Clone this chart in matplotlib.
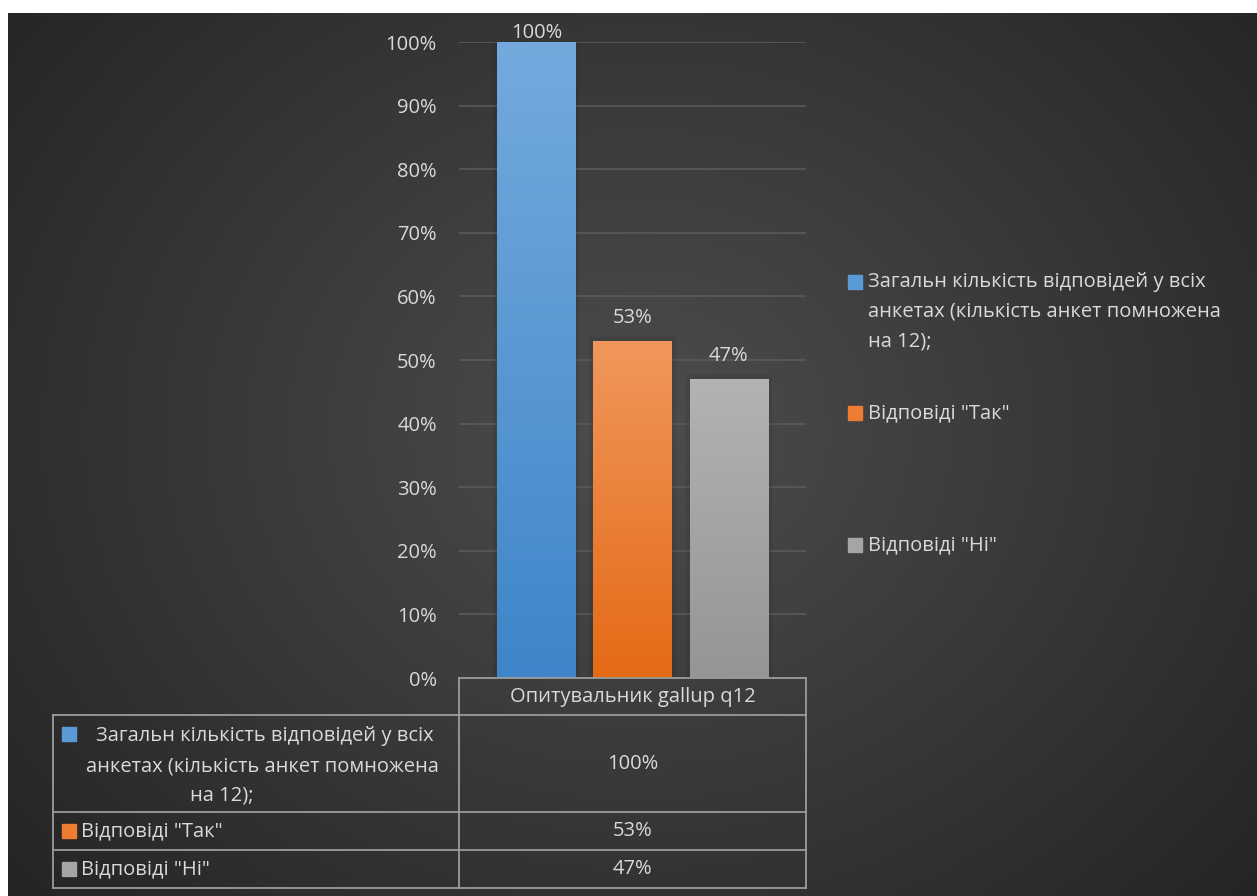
import numpy as np
import matplotlib
matplotlib.use("Agg")
import matplotlib.pyplot as plt
from matplotlib.colors import LinearSegmentedColormap
from matplotlib.patches import Rectangle
from matplotlib.lines import Line2D
import matplotlib.patheffects as pe
import textwrap

plt.rcParams['font.family'] = ['Open Sans', 'DejaVu Sans']

# data
category = 'Опитувальник gallup q12'
series = ['Загальн кількість відповідей у всіх анкетах (кількість анкет помножена на 12);',
          'Відповіді "Так"',
          'Відповіді "Ні"']
values = [100, 53, 47]
yticks = [0, 10, 20, 30, 40, 50, 60, 70, 80, 90, 100]

# colours (top, bottom) of each series gradient
bar_top = ['#74aade', '#f1975d', '#b3b3b3']
bar_bottom = ['#3e86c9', '#e46a15', '#959595']
swatch = ['#5b9bd5', '#ed7d31', '#a5a5a5']
text_col = '#d9d9d9'
grid_col = '#5a5a5a'
table_col = '#9c9c9c'
FS = 14.5

W, H = 1257, 896
fig = plt.figure(figsize=(W / 100, H / 100), dpi=100, facecolor='white')


def fx(x):
    return x / W


def fy(y):
    return 1 - y / H


# radial background (white strip on top and left like the source image)
bg = fig.add_axes([fx(8), 0, 1 - fx(8), fy(13)], zorder=-10)
yy, xx = np.mgrid[13:H, 8:W]
d = np.sqrt((xx - 640) ** 2 + ((yy - 430) / 0.85) ** 2) / 820
d = np.clip(d, 0, 1)
c0, c1 = np.array([0x4d, 0x4d, 0x4d]) / 255, np.array([0x25, 0x25, 0x25]) / 255
img = c0[None, None, :] * (1 - d[..., None]) + c1[None, None, :] * d[..., None]
bg.imshow(img, aspect='auto', extent=[0, 1, 0, 1])
bg.axis('off')

# main chart
ax = fig.add_axes([fx(459), fy(678), fx(806) - fx(459), fy(42) - fy(678)])
ax.set_facecolor('none')
for s in ax.spines.values():
    s.set_visible(False)

n = len(series)
step = 0.277
width = 0.225
xs = [0.5 + (i - (n - 1) / 2) * step for i in range(n)]

bars = ax.bar(xs, values, width=width, color=swatch, zorder=3)
for i, b in enumerate(bars):
    b.set_path_effects([pe.Stroke(linewidth=6, foreground='black', alpha=0.07), pe.Normal()])
    cmap = LinearSegmentedColormap.from_list('g%d' % i, [bar_bottom[i], bar_top[i]])
    grad = np.linspace(0, 1, 256).reshape(-1, 1)
    x0 = b.get_x()
    im = ax.imshow(grad, extent=[x0, x0 + b.get_width(), 0, values[i] * 100 / max(values)],
                   aspect='auto', cmap=cmap, origin='lower', zorder=4)
    im.set_clip_path(b)
    # label sits above the bar, pushed inside the plot for the tallest one
    off = 6.5 if values[i] == max(values) else 16.5
    ax.annotate('%d%%' % values[i], (xs[i], values[i]), xytext=(0, off), textcoords='offset points',
                ha='center', va='center', color=text_col, fontsize=FS, zorder=5, annotation_clip=False)

ax.set_xlim(0, 1)
ax.set_ylim(0, 100)
ax.set_yticks(yticks)
ax.set_yticklabels(['%d%%' % t for t in yticks])
ax.tick_params(axis='y', length=0, pad=16, labelsize=FS, labelcolor=text_col)
ax.set_xticks([])
ax.grid(axis='y', color=grid_col, linewidth=1.2, zorder=0)
ax.set_axisbelow(True)

# data table
tl, tm, tr = 53, 459, 806
rows = [678, 715, 812, 850, 888]


def hline(y, x0, x1):
    fig.add_artist(Line2D([fx(x0), fx(x1)], [fy(y), fy(y)], color=table_col, lw=1.3))


def vline(x, y0, y1):
    fig.add_artist(Line2D([fx(x), fx(x)], [fy(y0), fy(y1)], color=table_col, lw=1.3))


def square(x, yc, size, color):
    fig.add_artist(Rectangle((fx(x), fy(yc + size / 2)), fx(size), fy(yc - size / 2) - fy(yc + size / 2),
                             color=color))


hline(rows[0], tm, tr)
for y in rows[1:]:
    hline(y, tl, tr)
vline(tm, rows[0], rows[-1])
vline(tr, rows[0], rows[-1])
vline(tl, rows[1], rows[-1])

fig.text(fx((tm + tr) / 2), fy((rows[0] + rows[1]) / 2), category, ha='center', va='center',
         color=text_col, fontsize=FS)

for i, (name, v) in enumerate(zip(series, values)):
    yc = (rows[i + 1] + rows[i + 2]) / 2
    fig.text(fx((tm + tr) / 2), fy(yc), '%d%%' % v, ha='center', va='center',
             color=text_col, fontsize=FS)
    if len(name) > 40:
        lines = textwrap.wrap(name, 36)
        line_x = [265, 262, 222]
        line_y = [736, 766, 795]
        for ln, lx, ly in zip(lines, line_x, line_y):
            fig.text(fx(lx), fy(ly), ln, ha='center', va='center', color=text_col, fontsize=FS)
        square(62, 734, 14, swatch[i])
    else:
        fig.text(fx(81), fy(yc), name, ha='left', va='center', color=text_col, fontsize=FS)
        square(62, yc, 14, swatch[i])

# legend on the right
leg_y = [282, 413, 545]
for i, name in enumerate(series):
    lines = textwrap.wrap(name, 36)
    fig.text(fx(868), fy(leg_y[i] - 10), '\n'.join(lines), ha='left', va='top',
             color=text_col, fontsize=FS, linespacing=1.66)
    square(848, leg_y[i], 14, swatch[i])

fig.savefig('out.png', dpi=100, facecolor=fig.get_facecolor())
